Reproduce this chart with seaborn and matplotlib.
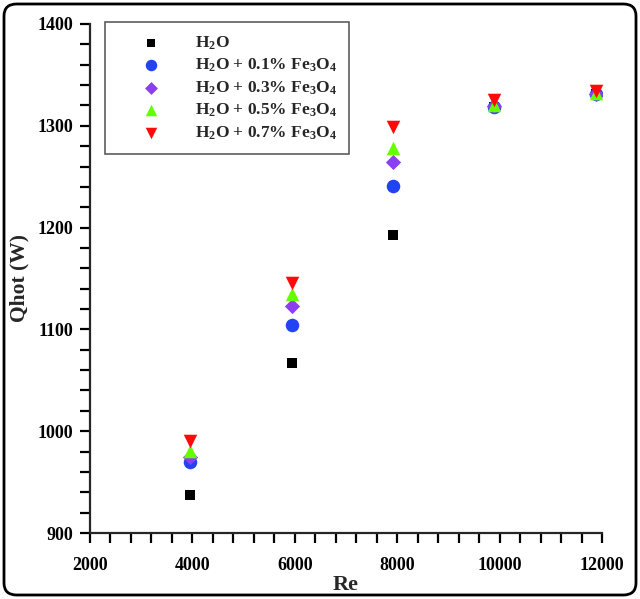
"""
Qhot vs Re for water and Fe3O4 nanofluids
"""

import matplotlib
matplotlib.use("Agg")
import matplotlib.pyplot as plt
from matplotlib.patches import FancyBboxPatch
from matplotlib.ticker import MultipleLocator
import pandas as pd
import seaborn as sns

RE = [3960, 5940, 7920, 9900, 11880]

Q_EAU = [937, 1067, 1193, 1318, 1331]
Q_01 = [970, 1104, 1241, 1318, 1331]
Q_03 = [975, 1123, 1264, 1319, 1331]
Q_05 = [981, 1135, 1278, 1320, 1332]
Q_07 = [990, 1146, 1299, 1325, 1334]

LABELS = ["H$_2$O",
          "H$_2$O + 0.1% Fe$_3$O$_4$",
          "H$_2$O + 0.3% Fe$_3$O$_4$",
          "H$_2$O + 0.5% Fe$_3$O$_4$",
          "H$_2$O + 0.7% Fe$_3$O$_4$"]

series = [Q_EAU, Q_01, Q_03, Q_05, Q_07]
couleurs = ["#000000", "#2143f2", "#8a3ff0", "#66ff00", "#ff0a0a"]
marqueurs = ["s", "o", "D", "^", "v"]
tailles = [55, 95, 60, 95, 95]

sns.set_style("ticks")
plt.rcParams["font.family"] = ["Liberation Serif", "DejaVu Serif"]
plt.rcParams["font.weight"] = "bold"
plt.rcParams["mathtext.fontset"] = "custom"
plt.rcParams["mathtext.rm"] = "Liberation Serif:bold"
plt.rcParams["mathtext.it"] = "Liberation Serif:bold"
plt.rcParams["mathtext.bf"] = "Liberation Serif:bold"
plt.rcParams["mathtext.default"] = "rm"

fig = plt.figure(figsize=(6.4, 5.99), dpi=100)
ax = fig.add_axes([90 / 640, 1 - 533 / 599, 512 / 640, 509 / 599])

for q, lab, c, m, s in zip(series, LABELS, couleurs, marqueurs, tailles):
    df = pd.DataFrame({"Re": RE, "Q": q})
    sns.scatterplot(data=df, x="Re", y="Q", ax=ax, color=c, marker=m, s=s,
                    linewidth=0, label=lab)

ax.set_xlim(2000, 12000)
ax.set_ylim(900, 1400)
ax.xaxis.set_major_locator(MultipleLocator(2000))
ax.xaxis.set_minor_locator(MultipleLocator(400))
ax.yaxis.set_major_locator(MultipleLocator(100))
ax.yaxis.set_minor_locator(MultipleLocator(20))
ax.tick_params(which="both", direction="out", length=7, width=1.6, colors="black",
               labelsize=13)
ax.tick_params(axis="x", pad=10)
ax.tick_params(axis="y", pad=5)
for lab in ax.get_xticklabels() + ax.get_yticklabels():
    lab.set_fontweight("bold")

sns.despine(ax=ax)
ax.spines["left"].set_linewidth(1.6)
ax.spines["bottom"].set_linewidth(1.6)

ax.set_xlabel("Re", fontsize=16, fontweight="bold", labelpad=1)
ax.set_ylabel("Qhot (W)", fontsize=15.5, fontweight="bold", labelpad=6)

leg = ax.legend(loc="upper left", bbox_to_anchor=(105 / 640, 1 - 22 / 599),
                bbox_transform=fig.transFigure, fontsize=12.5, frameon=True,
                fancybox=False, edgecolor="#333333", borderpad=0.7,
                handlelength=3.9, handletextpad=0.6, labelspacing=0.3,
                borderaxespad=0, markerscale=0.85)
leg.get_frame().set_linewidth(1.2)

cadre = FancyBboxPatch((4 / 640, 4 / 599), 632 / 640, 591 / 599,
                       boxstyle="round,pad=0,rounding_size=0.02",
                       transform=fig.transFigure, fill=False,
                       edgecolor="black", linewidth=2)
fig.patches.append(cadre)

fig.savefig("out.png", dpi=100)
